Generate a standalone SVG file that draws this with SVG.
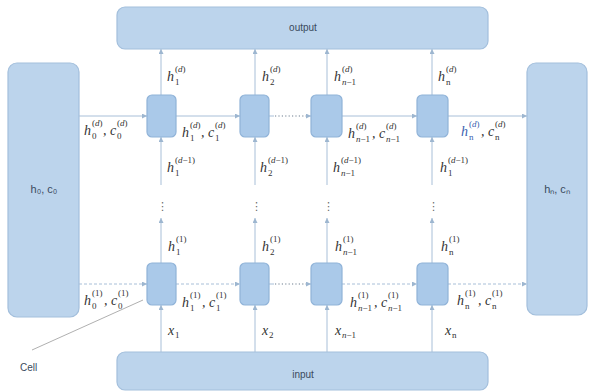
<svg xmlns="http://www.w3.org/2000/svg" width="595" height="392" viewBox="0 0 595 392">
<defs>
<marker id="arr" viewBox="0 0 6 6" refX="6" refY="3" markerWidth="5" markerHeight="5" orient="auto">
<path d="M0,0 L6,3 L0,6 z" fill="#9db6d0"/>
</marker>
<style>
.box{fill:#bcd4ec;stroke:#a3bfdc;stroke-width:1.2}
.cell{fill:#aac9e9;stroke:#90b3d8;stroke-width:1.2}
.ln{stroke:#a8bfd8;stroke-width:1;fill:none}
.dl{stroke:#a8bfd8;stroke-width:1;fill:none;stroke-dasharray:3,2}
.dots{stroke:#6f7f90;stroke-width:1.2;fill:none;stroke-dasharray:1.2,2.2}
.lbl{font-family:"Liberation Sans",Arial,sans-serif;font-size:10px;fill:#3a4a5c}
.big{font-size:11px}
.m{font-family:"Liberation Serif","Times New Roman",serif;font-size:14px;fill:#333;font-style:italic}
.s{font-size:9px;font-style:normal}
.vd{font-family:"DejaVu Sans",sans-serif;font-size:11px;fill:#666}
</style>
</defs>
<g id="output"><rect class="box" x="117" y="7" width="371" height="42" rx="8"/><text class="lbl" x="303" y="31" text-anchor="middle">output</text></g>
<g id="input"><rect class="box" x="117" y="352" width="371" height="38" rx="8"/><text class="lbl" x="303" y="378" text-anchor="middle">input</text></g>
<g id="init"><rect class="box" x="8" y="63" width="71" height="254" rx="9"/><text class="lbl big" x="44" y="193" text-anchor="middle">h₀, c₀</text></g>
<g id="final"><rect class="box" x="527" y="63" width="60" height="252" rx="9"/><text class="lbl big" x="557" y="193" text-anchor="middle">hₙ, cₙ</text></g>
<g id="connectors">
<line class="ln" x1="79" y1="116" x2="147" y2="116" marker-end="url(#arr)"/>
<line class="ln" x1="176" y1="116" x2="240" y2="116" marker-end="url(#arr)"/>
<line class="ln" x1="269" y1="116" x2="274" y2="116"/>
<line class="dots" x1="275" y1="116" x2="306" y2="116"/>
<line class="ln" x1="306" y1="116" x2="311" y2="116" marker-end="url(#arr)"/>
<line class="ln" x1="342" y1="116" x2="417" y2="116" marker-end="url(#arr)"/>
<line class="ln" x1="448" y1="116" x2="527" y2="116" marker-end="url(#arr)"/>
<line class="dl" x1="79" y1="284" x2="147" y2="284" marker-end="url(#arr)"/>
<line class="dl" x1="176" y1="284" x2="240" y2="284" marker-end="url(#arr)"/>
<line class="ln" x1="269" y1="284" x2="274" y2="284"/>
<line class="dots" x1="275" y1="284" x2="306" y2="284"/>
<line class="ln" x1="306" y1="284" x2="311" y2="284" marker-end="url(#arr)"/>
<line class="dl" x1="342" y1="284" x2="417" y2="284" marker-end="url(#arr)"/>
<line class="dl" x1="448" y1="284" x2="527" y2="284" marker-end="url(#arr)"/>
<g id="vcols">
<line class="ln" x1="161" y1="352" x2="161" y2="305" marker-end="url(#arr)"/>
<line class="ln" x1="161" y1="263" x2="161" y2="218" marker-end="url(#arr)"/>
<line class="ln" x1="161" y1="185" x2="161" y2="137" marker-end="url(#arr)"/>
<line class="ln" x1="161" y1="95" x2="161" y2="49" marker-end="url(#arr)"/>
<line class="ln" x1="255" y1="352" x2="255" y2="305" marker-end="url(#arr)"/>
<line class="ln" x1="255" y1="263" x2="255" y2="218" marker-end="url(#arr)"/>
<line class="ln" x1="255" y1="185" x2="255" y2="137" marker-end="url(#arr)"/>
<line class="ln" x1="255" y1="95" x2="255" y2="49" marker-end="url(#arr)"/>
<line class="ln" x1="327" y1="352" x2="327" y2="305" marker-end="url(#arr)"/>
<line class="ln" x1="327" y1="263" x2="327" y2="218" marker-end="url(#arr)"/>
<line class="ln" x1="327" y1="185" x2="327" y2="137" marker-end="url(#arr)"/>
<line class="ln" x1="327" y1="95" x2="327" y2="49" marker-end="url(#arr)"/>
<line class="ln" x1="432" y1="352" x2="432" y2="305" marker-end="url(#arr)"/>
<line class="ln" x1="432" y1="263" x2="432" y2="218" marker-end="url(#arr)"/>
<line class="ln" x1="432" y1="185" x2="432" y2="137" marker-end="url(#arr)"/>
<line class="ln" x1="432" y1="95" x2="432" y2="49" marker-end="url(#arr)"/>
</g>
<line x1="143" y1="300" x2="32" y2="350" stroke="#b0b0b0" stroke-width="1"/>
</g>
<g id="cell-d1"><rect class="cell" x="147" y="95" width="29" height="42" rx="5"/></g>
<g id="cell-d2"><rect class="cell" x="240" y="95" width="29" height="42" rx="5"/></g>
<g id="cell-d3"><rect class="cell" x="311" y="95" width="31" height="42" rx="5"/></g>
<g id="cell-d4"><rect class="cell" x="417" y="95" width="31" height="42" rx="5"/></g>
<g id="cell-11"><rect class="cell" x="147" y="263" width="29" height="42" rx="5"/></g>
<g id="cell-12"><rect class="cell" x="240" y="263" width="29" height="42" rx="5"/></g>
<g id="cell-13"><rect class="cell" x="311" y="263" width="31" height="42" rx="5"/></g>
<g id="cell-14"><rect class="cell" x="417" y="263" width="31" height="42" rx="5"/></g>
<g id="vdots">
<text class="vd" x="157" y="210">⋮</text>
<text class="vd" x="251" y="210">⋮</text>
<text class="vd" x="323" y="210">⋮</text>
<text class="vd" x="428" y="210">⋮</text>
</g>
<g id="cell-label"><text class="lbl" x="20" y="371" fill="#555">Cell</text></g>
<g id="labels">
<text class="m" x="167" y="81">h<tspan class="s" x="175" y="72">(<tspan font-style="italic">d</tspan>)</tspan><tspan class="s" x="175" y="85">1</tspan></text>
<text class="m" x="262" y="81">h<tspan class="s" x="270" y="72">(<tspan font-style="italic">d</tspan>)</tspan><tspan class="s" x="270" y="85">2</tspan></text>
<text class="m" x="334" y="81">h<tspan class="s" x="342" y="72">(<tspan font-style="italic">d</tspan>)</tspan><tspan class="s" x="342" y="85"><tspan font-style="italic">n</tspan>−1</tspan></text>
<text class="m" x="438" y="81">h<tspan class="s" x="446" y="72">(<tspan font-style="italic">d</tspan>)</tspan><tspan class="s" x="446" y="85" font-style="italic">n</tspan></text>
<text class="m" x="84" y="135">h<tspan class="s" x="92" y="126">(<tspan font-style="italic">d</tspan>)</tspan><tspan class="s" x="92" y="139">0</tspan><tspan x="103" y="135">, c</tspan><tspan class="s" x="117" y="126">(<tspan font-style="italic">d</tspan>)</tspan><tspan class="s" x="117" y="139">0</tspan></text>
<text class="m" x="182" y="137">h<tspan class="s" x="190" y="128">(<tspan font-style="italic">d</tspan>)</tspan><tspan class="s" x="190" y="141">1</tspan><tspan x="201" y="137">, c</tspan><tspan class="s" x="215" y="128">(<tspan font-style="italic">d</tspan>)</tspan><tspan class="s" x="215" y="141">1</tspan></text>
<text class="m" x="348" y="138">h<tspan class="s" x="356" y="129">(<tspan font-style="italic">d</tspan>)</tspan><tspan class="s" x="356" y="142"><tspan font-style="italic">n</tspan>−1</tspan><tspan x="372" y="138">, c</tspan><tspan class="s" x="386" y="129">(<tspan font-style="italic">d</tspan>)</tspan><tspan class="s" x="386" y="142"><tspan font-style="italic">n</tspan>−1</tspan></text>
<text class="m" x="461" y="136"><tspan fill="#3a5fb0">h</tspan><tspan class="s" x="469" y="127" fill="#3a5fb0">(<tspan font-style="italic">d</tspan>)</tspan><tspan class="s" x="469" y="140" font-style="italic" fill="#3a5fb0">n</tspan><tspan x="481" y="136">, c</tspan><tspan class="s" x="495" y="127">(<tspan font-style="italic">d</tspan>)</tspan><tspan class="s" x="495" y="140" font-style="italic">n</tspan></text>
<text class="m" x="167" y="172">h<tspan class="s" x="175" y="163">(<tspan font-style="italic">d</tspan>−1)</tspan><tspan class="s" x="175" y="176">1</tspan></text>
<text class="m" x="260" y="172">h<tspan class="s" x="268" y="163">(<tspan font-style="italic">d</tspan>−1)</tspan><tspan class="s" x="268" y="176">2</tspan></text>
<text class="m" x="333" y="172">h<tspan class="s" x="341" y="163">(<tspan font-style="italic">d</tspan>−1)</tspan><tspan class="s" x="341" y="176"><tspan font-style="italic">n</tspan>−1</tspan></text>
<text class="m" x="440" y="172">h<tspan class="s" x="448" y="163">(<tspan font-style="italic">d</tspan>−1)</tspan><tspan class="s" x="448" y="176">1</tspan></text>
<text class="m" x="168" y="251">h<tspan class="s" x="176" y="242">(1)</tspan><tspan class="s" x="176" y="255">1</tspan></text>
<text class="m" x="262" y="251">h<tspan class="s" x="270" y="242">(1)</tspan><tspan class="s" x="270" y="255">2</tspan></text>
<text class="m" x="335" y="251">h<tspan class="s" x="343" y="242">(1)</tspan><tspan class="s" x="343" y="255"><tspan font-style="italic">n</tspan>−1</tspan></text>
<text class="m" x="441" y="251">h<tspan class="s" x="449" y="242">(1)</tspan><tspan class="s" x="449" y="255" font-style="italic">n</tspan></text>
<text class="m" x="84" y="305">h<tspan class="s" x="92" y="296">(1)</tspan><tspan class="s" x="92" y="309">0</tspan><tspan x="104" y="305">, c</tspan><tspan class="s" x="118" y="296">(1)</tspan><tspan class="s" x="118" y="309">0</tspan></text>
<text class="m" x="182" y="307">h<tspan class="s" x="190" y="298">(1)</tspan><tspan class="s" x="190" y="311">1</tspan><tspan x="202" y="307">, c</tspan><tspan class="s" x="216" y="298">(1)</tspan><tspan class="s" x="216" y="311">1</tspan></text>
<text class="m" x="350" y="307">h<tspan class="s" x="358" y="298">(1)</tspan><tspan class="s" x="358" y="311"><tspan font-style="italic">n</tspan>−1</tspan><tspan x="374" y="307">, c</tspan><tspan class="s" x="388" y="298">(1)</tspan><tspan class="s" x="388" y="311"><tspan font-style="italic">n</tspan>−1</tspan></text>
<text class="m" x="457" y="305">h<tspan class="s" x="465" y="296">(1)</tspan><tspan class="s" x="465" y="309" font-style="italic">n</tspan><tspan x="478" y="305">, c</tspan><tspan class="s" x="492" y="296">(1)</tspan><tspan class="s" x="492" y="309" font-style="italic">n</tspan></text>
<text class="m" x="168" y="335">x<tspan class="s" x="175" y="338">1</tspan></text>
<text class="m" x="262" y="335">x<tspan class="s" x="269" y="338">2</tspan></text>
<text class="m" x="335" y="335">x<tspan class="s" x="342" y="338"><tspan font-style="italic">n</tspan>−1</tspan></text>
<text class="m" x="445" y="335">x<tspan class="s" x="452" y="338" font-style="italic">n</tspan></text>
</g>
</svg>
